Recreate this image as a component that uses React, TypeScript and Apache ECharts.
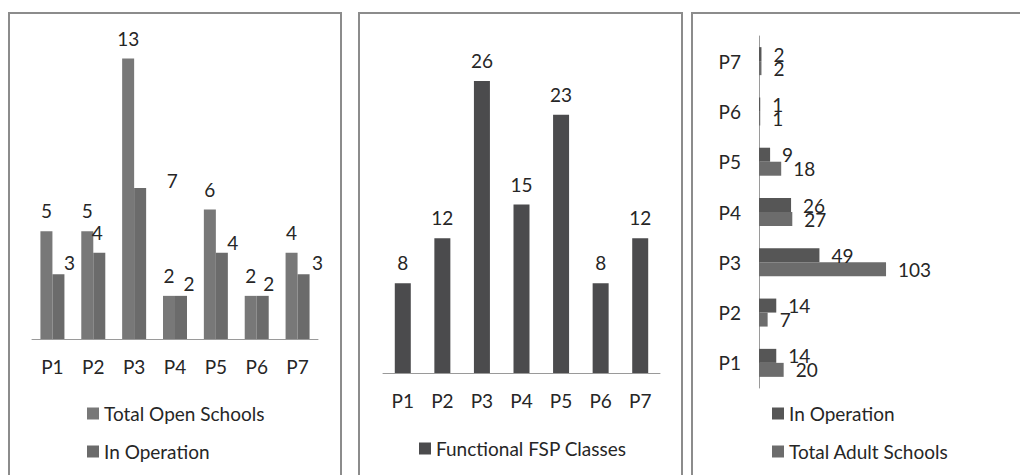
import React, { useEffect, useRef } from "react";
import * as echarts from "echarts";

const categories = ["P1", "P2", "P3", "P4", "P5", "P6", "P7"];
const totalOpenSchools = [5, 5, 13, 2, 6, 2, 4];
const inOperationOpen = [3, 4, 7, 2, 4, 2, 3];
const functionalFspClasses = [8, 12, 26, 15, 23, 8, 12];
const inOperationAdult = [14, 14, 49, 26, 9, 1, 2];
const totalAdultSchools = [20, 7, 103, 27, 18, 1, 2];

// manual label nudges (as in the original layout) for "In Operation" labels in panel 1
const openLabelShift = [[11, 9], [-2, 0], [32, 13], [8, 8], [11, 10], [6, 8], [14, 9]];

const FONT = "Lato";
const TXT = "#262626";
const C_TOTAL_OPEN = "#787878";
const C_INOP_OPEN = "#6b6b6b";
const C_FSP = "#4b4b4d";
const C_INOP_ADULT = "#565656";
const C_TOTAL_ADULT = "#6c6c6c";

export default function App() {
  const ref = useRef<HTMLDivElement>(null);
  useEffect(() => {
    if (!ref.current) return;
    const chart = echarts.init(ref.current, undefined, { renderer: "svg" });
    const labelStyle = { color: TXT, fontFamily: FONT, fontSize: 19 };
    const catAxisCommon = {
      type: "category" as const,
      data: categories,
      axisLine: { lineStyle: { color: "#9a9a9a", width: 1 } },
      axisTick: { length: 6, lineStyle: { color: "#9a9a9a" } },
      axisLabel: { ...labelStyle, margin: 18 },
    };
    const option: any = {
      animation: false,
      backgroundColor: "#ffffff",
      textStyle: { fontFamily: FONT },
      grid: [
        { left: 32, right: 1020 - 318, top: 37, bottom: 475 - 339 },
        { left: 383, right: 1020 - 660, top: 36, bottom: 475 - 373 },
        { left: 759, right: 1020 - 907, top: 36, bottom: 475 - 388 },
      ],
      xAxis: [
        { ...catAxisCommon, gridIndex: 0 },
        { ...catAxisCommon, gridIndex: 1 },
        { type: "value", gridIndex: 2, min: 0, max: 120, show: false },
      ],
      yAxis: [
        { type: "value", gridIndex: 0, min: 0, max: 14, show: false },
        { type: "value", gridIndex: 1, min: 0, max: 30, show: false },
        { ...catAxisCommon, gridIndex: 2, axisTick: { length: 7, lineStyle: { color: "#9a9a9a" } } },
      ],
      legend: [
        {
          orient: "vertical",
          left: 82,
          top: 399,
          itemWidth: 12,
          itemHeight: 12,
          itemGap: 19,
          icon: "rect",
          textStyle: { ...labelStyle },
          data: [
            { name: "Total Open Schools", itemStyle: { color: C_TOTAL_OPEN } },
            { name: "In Operation", itemStyle: { color: C_INOP_OPEN } },
          ],
        },
        {
          orient: "vertical",
          left: 414,
          top: 434,
          itemWidth: 12,
          itemHeight: 12,
          icon: "rect",
          textStyle: { ...labelStyle },
          data: [{ name: "Functional FSP Classes", itemStyle: { color: C_FSP } }],
        },
        {
          orient: "vertical",
          left: 767,
          top: 399,
          itemWidth: 12,
          itemHeight: 12,
          itemGap: 19,
          icon: "rect",
          textStyle: { ...labelStyle },
          data: [
            { name: "In Operation", itemStyle: { color: C_INOP_ADULT } },
            { name: "Total Adult Schools", itemStyle: { color: C_TOTAL_ADULT } },
          ],
        },
      ],
      graphic: [
        { type: "rect", shape: { x: 9, y: 13, width: 332, height: 480 }, style: { fill: "none", stroke: "#8c8c8c", lineWidth: 2 } },
        { type: "rect", shape: { x: 359, y: 13, width: 323, height: 480 }, style: { fill: "none", stroke: "#8c8c8c", lineWidth: 2 } },
        { type: "rect", shape: { x: 692, y: 13, width: 340, height: 480 }, style: { fill: "none", stroke: "#8c8c8c", lineWidth: 2 } },
      ],
      series: [
        {
          type: "bar",
          name: "Total Open Schools",
          xAxisIndex: 0,
          yAxisIndex: 0,
          data: totalOpenSchools,
          barWidth: 12,
          barGap: "0%",
          itemStyle: { color: C_TOTAL_OPEN },
          label: { show: true, position: "top", distance: 11, ...labelStyle },
        },
        {
          type: "bar",
          name: "In Operation",
          xAxisIndex: 0,
          yAxisIndex: 0,
          barWidth: 12,
          barGap: "0%",
          data: inOperationOpen.map((v, i) => ({
            value: v,
            label: { offset: openLabelShift[i] },
          })),
          itemStyle: { color: C_INOP_OPEN },
          label: { show: true, position: "top", distance: 11, ...labelStyle },
        },
        {
          type: "bar",
          name: "Functional FSP Classes",
          xAxisIndex: 1,
          yAxisIndex: 1,
          data: functionalFspClasses,
          barWidth: 16,
          itemStyle: { color: C_FSP },
          label: { show: true, position: "top", distance: 11, ...labelStyle },
        },
        {
          type: "bar",
          name: "In Operation",
          xAxisIndex: 2,
          yAxisIndex: 2,
          data: inOperationAdult,
          barWidth: 14,
          barGap: "0%",
          itemStyle: { color: C_INOP_ADULT },
          label: { show: true, position: "right", distance: 12, ...labelStyle },
        },
        {
          type: "bar",
          name: "Total Adult Schools",
          xAxisIndex: 2,
          yAxisIndex: 2,
          data: totalAdultSchools,
          barWidth: 14,
          barGap: "0%",
          itemStyle: { color: C_TOTAL_ADULT },
          label: { show: true, position: "right", distance: 12, ...labelStyle },
        },
      ],
    };
    chart.setOption(option);
    return () => chart.dispose();
  }, []);
  return (
    <div
      ref={ref}
      style={{ position: "absolute", left: 0, top: 0, width: 1020, height: 475 }}
    />
  );
}
